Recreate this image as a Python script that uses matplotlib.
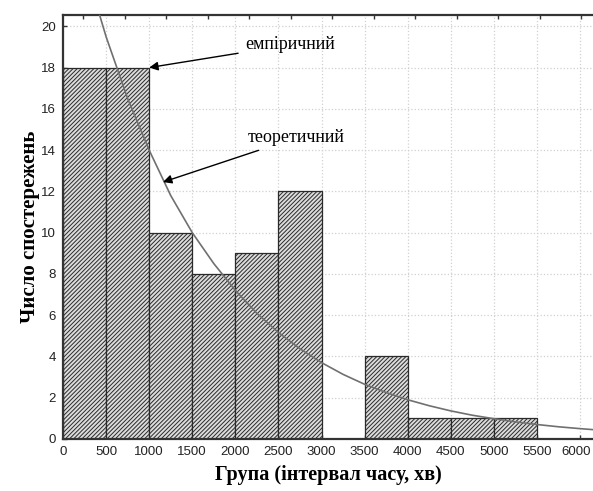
import matplotlib
matplotlib.use("Agg")
import matplotlib.pyplot as plt
import matplotlib as mpl
from matplotlib.transforms import ScaledTranslation

# ---- data ----
bin_edges_left = [0, 500, 1000, 1500, 2000, 2500, 3000, 3500, 4000, 4500, 5000]
bin_width = 500
counts = [18, 18, 10, 8, 9, 12, 0, 4, 1, 1, 1]

curve_x = [0, 250, 500, 750, 1000, 1250, 1500, 1750, 2000, 2250, 2500, 2750, 3000,
           3250, 3500, 3750, 4000, 4250, 4500, 4750, 5000, 5250, 5500, 5750, 6000, 6250]
curve_y = [27.2, 23.0, 19.5, 16.5, 14.0, 11.8, 10.0, 8.5, 7.2, 6.09, 5.16, 4.37, 3.70,
           3.13, 2.65, 2.25, 1.90, 1.61, 1.36, 1.15, 0.98, 0.83, 0.70, 0.59, 0.50, 0.42]

x_ticks = [0, 500, 1000, 1500, 2000, 2500, 3000, 3500, 4000, 4500, 5000, 5500, 6000]
y_ticks = [0, 2, 4, 6, 8, 10, 12, 14, 16, 18, 20]
top_ticks = [232, 714, 1196, 1677, 2159, 2641, 3122, 3604, 4086, 4567, 5049, 5531, 6012]

x_label = "Група (інтервал часу, хв)"
y_label = "Число спостережень"
label_emp = "емпіричний"
label_theor = "теоретичний"

mpl.rcParams['hatch.linewidth'] = 0.7
mpl.rcParams['hatch.color'] = '#3c3c3c'

fig = plt.figure(figsize=(5.93, 4.91), dpi=100)
ax = fig.add_axes([0.1062, 0.106, 0.8938, 0.8635])

ax.grid(True, color='#d0d0d0', linestyle=':', linewidth=0.9)
ax.set_axisbelow(True)

ax.bar(bin_edges_left, counts, width=bin_width, align='edge',
       facecolor='#dcdcdc', edgecolor='#2a2a2a', linewidth=0.9,
       hatch='////////', zorder=2)

ax.plot(curve_x, curve_y, color='#707070', linewidth=1.2, zorder=3)

ax.set_xlim(0, 6150)
ax.set_ylim(0, 20.55)
ax.set_xticks(x_ticks)
ax.set_yticks(y_ticks)

ax.tick_params(axis='both', direction='in', length=3, width=1, color='#333333', pad=5)

for lbl in ax.get_xticklabels() + ax.get_yticklabels():
    lbl.set_fontfamily('Liberation Sans')
    lbl.set_fontsize(9.5)
    lbl.set_color('#222222')

# keep the last x tick label inside the figure
last = ax.get_xticklabels()[-1]
last.set_transform(last.get_transform() + ScaledTranslation(-4 / 100, 0, fig.dpi_scale_trans))

for side in ['left', 'bottom', 'top']:
    ax.spines[side].set_linewidth(1.6)
    ax.spines[side].set_color('#333333')
ax.spines['right'].set_visible(False)

sec = ax.secondary_xaxis('top')
sec.set_xticks(top_ticks)
sec.set_xticklabels([])
sec.tick_params(direction='in', length=3, width=1, color='#333333')
sec.spines['top'].set_visible(False)

ax.set_xlabel(x_label, family='Liberation Serif', fontweight='bold', fontsize=14.5,
              labelpad=5)
ax.set_ylabel(y_label, family='Liberation Serif', fontweight='bold', fontsize=15,
              labelpad=1)

arrow = dict(arrowstyle='-|>', color='black', lw=1.0, mutation_scale=13,
             shrinkA=3, shrinkB=0)
ax.annotate(label_emp, xy=(1000, 18), xytext=(2112, 19.1),
            ha='left', va='center', family='Liberation Serif', fontsize=13,
            arrowprops=arrow, zorder=5)
ax.annotate(label_theor, xy=(1160, 12.45), xytext=(2147, 14.6),
            ha='left', va='center', family='Liberation Serif', fontsize=13,
            arrowprops=arrow, zorder=5)

fig.savefig("out.png", dpi=100, facecolor='white')
